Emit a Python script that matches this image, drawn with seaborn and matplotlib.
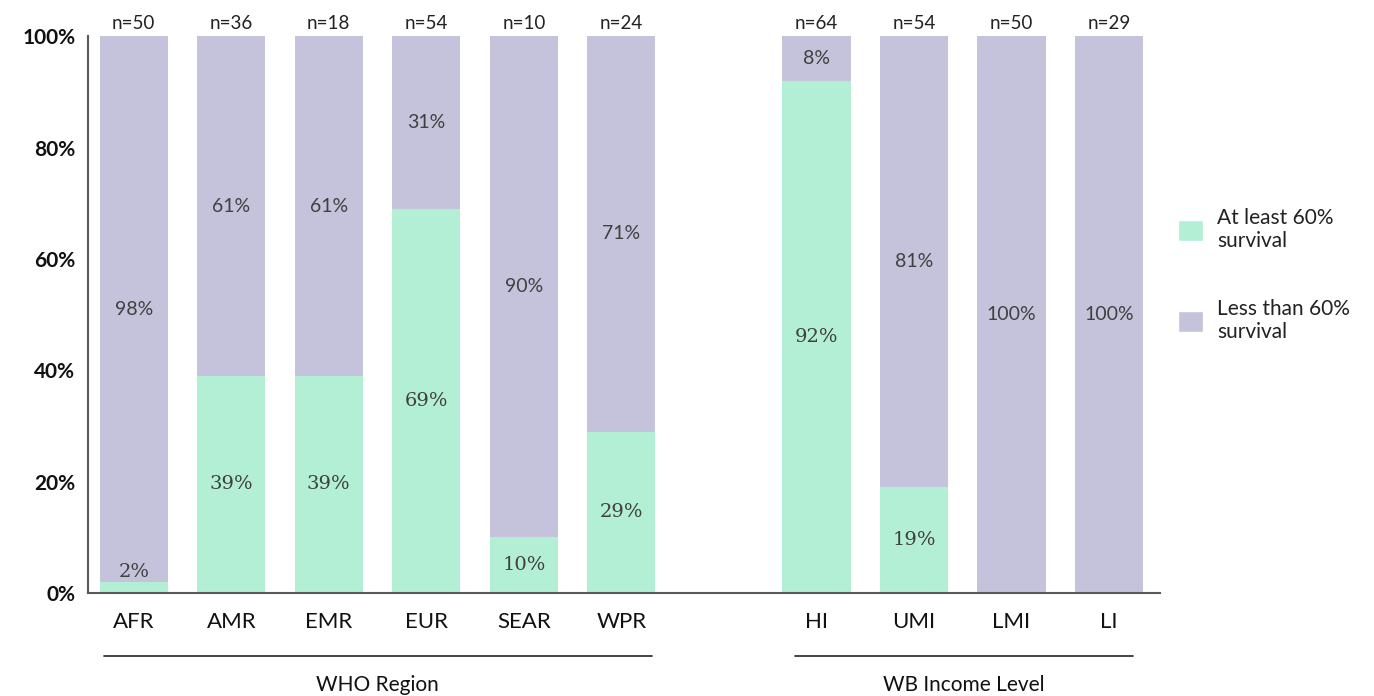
import numpy as np
import pandas as pd
import seaborn as sns
import matplotlib.pyplot as plt
from matplotlib.patches import Patch
from matplotlib.transforms import blended_transform_factory

# data
categories = ['AFR', 'AMR', 'EMR', 'EUR', 'SEAR', 'WPR', 'HI', 'UMI', 'LMI', 'LI']
positions = [0, 1, 2, 3, 4, 5, 7, 8, 9, 10]
at_least_60 = [2, 39, 39, 69, 10, 29, 92, 19, 0, 0]
less_than_60 = [98, 61, 61, 31, 90, 71, 8, 81, 100, 100]
n_counts = [50, 36, 18, 54, 10, 24, 64, 54, 50, 29]

green = '#b3efd4'
purple = '#c4c3db'
text_col = '#404040'

sns.set_theme(style='white')
plt.rcParams['font.family'] = ['Lato', 'DejaVu Sans']

df = pd.DataFrame({
    'pos': positions,
    'cat': categories,
    'green': at_least_60,
    'purple': less_than_60,
    'n': n_counts,
})
df['total'] = df['green'] + df['purple']

fig = plt.figure(figsize=(13.74, 6.96), dpi=100)
ax = fig.add_axes([0.064, 0.148, 0.780, 0.800])

# stacked bars: total in purple, then green on top of it
sns.barplot(data=df, x='pos', y='total', native_scale=True, color=purple,
            width=0.7, saturation=1, ax=ax, errorbar=None, linewidth=0)
sns.barplot(data=df, x='pos', y='green', native_scale=True, color=green,
            width=0.7, saturation=1, ax=ax, errorbar=None, linewidth=0)

ax.set_xlim(-0.47, 10.52)
ax.set_ylim(0, 100)

# value labels
for _, r in df.iterrows():
    if r['green'] > 0:
        if r['green'] < 5:
            ax.text(r['pos'], r['green'] + 0.2, f"{r['green']}%", ha='center', va='bottom',
                    fontsize=14, color=text_col, family='DejaVu Serif')
        else:
            ax.text(r['pos'], r['green'] / 2, f"{r['green']}%", ha='center', va='center',
                    fontsize=14, color=text_col, family='DejaVu Serif')
    if r['purple'] > 0:
        ax.text(r['pos'], r['green'] + r['purple'] / 2, f"{r['purple']}%", ha='center',
                va='center', fontsize=14, color=text_col)
    ax.text(r['pos'], 100.8, f"n={r['n']}", ha='center', va='bottom', fontsize=13.5,
            color='#222222')

# axes styling
for s in ['top', 'right']:
    ax.spines[s].set_visible(False)
for s in ['left', 'bottom']:
    ax.spines[s].set_color('#595959')
    ax.spines[s].set_linewidth(1.5)

ax.set_yticks([0, 20, 40, 60, 80, 100])
ax.set_yticklabels([f'{v}%' for v in range(0, 101, 20)], fontsize=15, fontweight='bold',
                   color='#111111')
ax.tick_params(axis='y', length=0, pad=9)
ax.set_xticks(positions)
ax.set_xticklabels(categories, fontsize=16, color='#111111')
ax.tick_params(axis='x', length=0, pad=14)
ax.set_xlabel('')
ax.set_ylabel('')

# group brackets under the axis
trans = blended_transform_factory(ax.transData, ax.transAxes)
groups = [('WHO Region', -0.31, 5.31), ('WB Income Level', 6.78, 10.25)]
for name, x0, x1 in groups:
    ax.plot([x0, x1], [-0.113, -0.113], color='#222222', linewidth=1.2,
            transform=trans, clip_on=False)
    ax.text((x0 + x1) / 2, -0.166, name, ha='center', va='center', fontsize=15,
            color='#111111', transform=trans)

handles = [Patch(facecolor=green, label='At least 60%\nsurvival'),
           Patch(facecolor=purple, label='Less than 60%\nsurvival')]
fig.legend(handles=handles, loc='center left', bbox_to_anchor=(0.857, 0.605),
           frameon=False, fontsize=15, labelspacing=2.3, handlelength=1.2,
           handleheight=1.2, handletextpad=0.7, borderpad=0, borderaxespad=0,
           labelcolor='#222222')

fig.savefig('out.png', dpi=100)
